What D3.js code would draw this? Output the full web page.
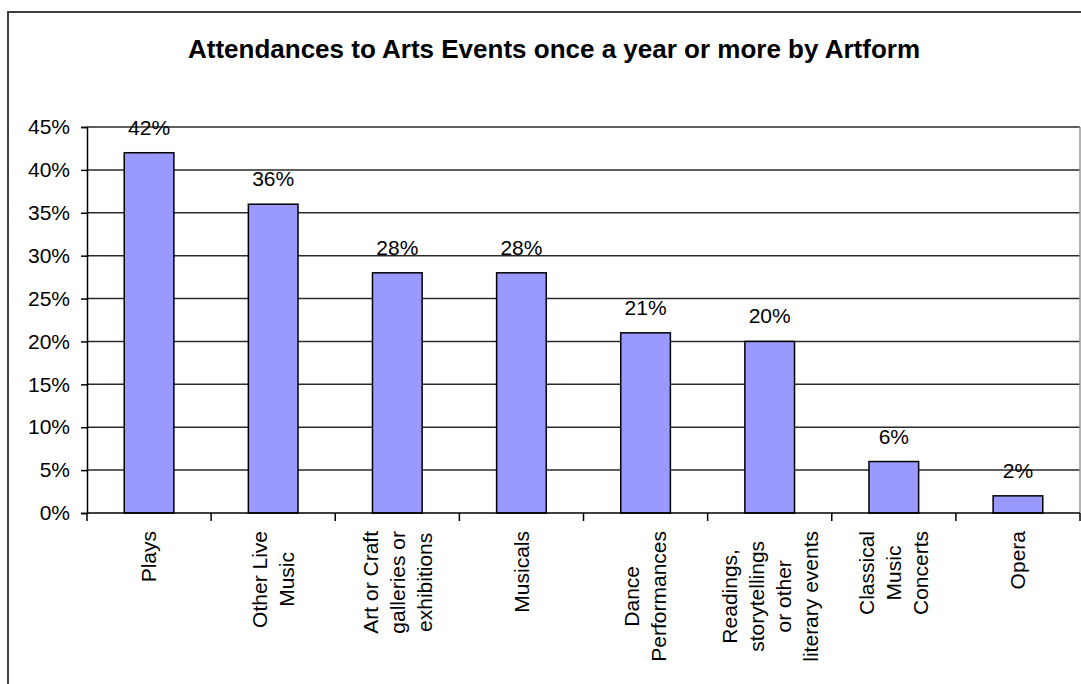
<!DOCTYPE html>
<html>
<head>
<meta charset="utf-8">
<script src="https://cdn.jsdelivr.net/npm/d3@7"></script>
<style>
  body { margin: 0; background: #fff; }
  svg { display: block; font-family: "Liberation Sans", Arial, sans-serif; }
</style>
</head>
<body>
<svg id="chart" width="1081" height="684"></svg>
<script>
var categories = ["Plays", "Other Live Music", "Art or Craft galleries or exhibitions", "Musicals",
                  "Dance Performances", "Readings, storytellings or other literary events",
                  "Classical Music Concerts", "Opera"];
var labelLines = [["Plays"], ["Other Live", "Music"], ["Art or Craft", "galleries or", "exhibitions"],
                  ["Musicals"], ["Dance", "Performances"],
                  ["Readings,", "storytellings", "or other", "literary events"],
                  ["Classical", "Music", "Concerts"], ["Opera"]];
var values = [0.42, 0.36, 0.28, 0.28, 0.21, 0.20, 0.06, 0.02];
var yTicks = [0, 0.05, 0.10, 0.15, 0.20, 0.25, 0.30, 0.35, 0.40, 0.45];
var title = "Attendances to Arts Events once a year or more by Artform";

var svg = d3.select("#chart");
var plot = {left: 87, right: 1080, top: 127, bottom: 513};

// outer chart frame
svg.append("path")
  .attr("d", "M8,700 L8,12 L1110,12")
  .attr("fill", "none")
  .attr("stroke", "#404040")
  .attr("stroke-width", 2);

svg.append("text")
  .attr("x", 554)
  .attr("y", 58)
  .attr("text-anchor", "middle")
  .attr("font-size", "26px")
  .attr("font-weight", "bold")
  .attr("fill", "#000")
  .text(title);

var x = d3.scaleBand()
  .domain(categories)
  .range([plot.left, plot.right])
  .paddingInner(0.6)
  .paddingOuter(0.3);

var y = d3.scaleLinear()
  .domain([0, 0.45])
  .range([plot.bottom, plot.top]);

// gridlines
svg.append("g")
  .selectAll("line")
  .data(yTicks.slice(1))
  .enter().append("line")
  .attr("x1", plot.left)
  .attr("x2", plot.right)
  .attr("y1", function(d) { return y(d); })
  .attr("y2", function(d) { return y(d); })
  .attr("stroke", "#2a2a2a")
  .attr("stroke-width", 1.5);

// right border of the plot area
svg.append("line")
  .attr("x1", plot.right).attr("x2", plot.right)
  .attr("y1", plot.top).attr("y2", plot.bottom)
  .attr("stroke", "#999")
  .attr("stroke-width", 1.5);

// bars
svg.append("g")
  .selectAll("rect")
  .data(values)
  .enter().append("rect")
  .attr("x", function(d, i) { return x(categories[i]); })
  .attr("y", function(d) { return y(d); })
  .attr("width", x.bandwidth())
  .attr("height", function(d) { return y(0) - y(d); })
  .attr("fill", "#9999ff")
  .attr("stroke", "#000")
  .attr("stroke-width", 1.5);

// data labels
svg.append("g")
  .selectAll("text")
  .data(values)
  .enter().append("text")
  .attr("x", function(d, i) { return x(categories[i]) + x.bandwidth() / 2; })
  .attr("y", function(d) { return y(d) - 18; })
  .attr("text-anchor", "middle")
  .attr("font-size", "21px")
  .attr("fill", "#000")
  .text(function(d) { return Math.round(d * 100) + "%"; });

// y axis
svg.append("g")
  .attr("transform", "translate(" + plot.left + ",0)")
  .call(d3.axisLeft(y)
    .tickValues(yTicks)
    .tickSize(6)
    .tickPadding(11)
    .tickFormat(d3.format(".0%")))
  .call(g => g.select(".domain").attr("stroke", "#000").attr("stroke-width", 1.5))
  .call(g => g.selectAll(".tick line").attr("stroke", "#000").attr("stroke-width", 1.5))
  .call(g => g.selectAll(".tick text")
    .attr("font-size", "21px")
    .attr("font-family", "Liberation Sans, Arial, sans-serif")
    .attr("fill", "#000"));

// x axis with ticks between categories
var step = x.step();
var boundaries = d3.range(categories.length + 1).map(function(i) {
  return plot.left + i * step;
});
var xAxis = svg.append("g");
xAxis.append("line")
  .attr("x1", plot.left).attr("x2", plot.right)
  .attr("y1", plot.bottom).attr("y2", plot.bottom)
  .attr("stroke", "#000")
  .attr("stroke-width", 1.5);
xAxis.selectAll(".sep")
  .data(boundaries)
  .enter().append("line")
  .attr("class", "sep")
  .attr("x1", function(d) { return d; })
  .attr("x2", function(d) { return d; })
  .attr("y1", plot.bottom)
  .attr("y2", plot.bottom + 8)
  .attr("stroke", "#000")
  .attr("stroke-width", 1.5);

// rotated multi-line category labels
var lineGap = 27;
var labels = svg.append("g")
  .selectAll("g")
  .data(labelLines)
  .enter().append("g")
  .attr("transform", function(d, i) {
    return "translate(" + (x(categories[i]) + x.bandwidth() / 2) + "," + (plot.bottom + 18) + ") rotate(-90)";
  });

labels.each(function(lines) {
  var g = d3.select(this);
  var texts = g.selectAll("text")
    .data(lines)
    .enter().append("text")
    .attr("font-size", "21px")
    .attr("fill", "#000")
    .attr("text-anchor", "middle")
    .attr("dy", "0.35em")
    .attr("y", function(d, j) { return (j - (lines.length - 1) / 2) * lineGap; })
    .text(function(d) { return d; });
  var maxLen = 0;
  texts.each(function() { maxLen = Math.max(maxLen, this.getComputedTextLength()); });
  texts.attr("x", -maxLen / 2);
});
</script>
</body>
</html>
